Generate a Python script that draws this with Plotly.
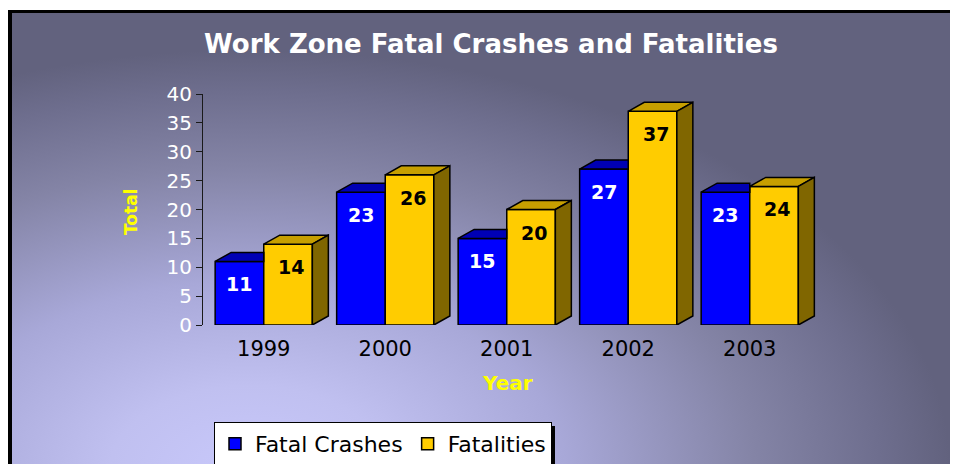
import base64
import plotly.graph_objects as go

years = ["1999", "2000", "2001", "2002", "2003"]
fatal_crashes = [11, 23, 15, 27, 23]
fatalities = [14, 26, 20, 37, 24]

# The page body has an 8px margin, so the figure is made 8px smaller and
# every reference pixel (X, Y) maps to figure pixel (X-8, Y-8).
OFF = 8
W, H = 958 - OFF, 464 - OFF
def fx(X):
    return (X - OFF) / W
def fy(Y):
    return 1 - (Y - OFF) / H

BLUE, BLUE_TOP = "#0000ff", "#0000b4"
GOLD, GOLD_TOP, GOLD_SIDE = "#ffcc00", "#c79f00", "#806600"
FONT = "DejaVu Sans"

# plot-area geometry (reference pixels)
x_left, px_per_cat = 203, 121.5
y_bottom, y_top = 325, 94
x_range = [-0.5, 4.62]
x_right = x_left + (x_range[1] - x_range[0]) * px_per_cat
px_per_unit = (y_bottom - y_top) / 40.0
DX = 16 / px_per_cat      # depth in category units
DY = 9 / px_per_unit      # depth in value units
BW = 0.4                  # bar width

svg = f'''<svg xmlns="http://www.w3.org/2000/svg" width="{W}" height="{H}" viewBox="{OFF} {OFF} {W} {H}">
<defs><radialGradient id="g" gradientUnits="userSpaceOnUse" cx="0" cy="0" r="1"
 gradientTransform="translate(250 470) scale(700 420)">
<stop offset="0" stop-color="#c8c8fb"/>
<stop offset="0.2" stop-color="#c0c0f0"/>
<stop offset="0.45" stop-color="#a8a8d8"/>
<stop offset="0.6" stop-color="#9494bc"/>
<stop offset="0.72" stop-color="#8484a6"/>
<stop offset="0.9" stop-color="#6e6e8e"/>
<stop offset="1" stop-color="#62627e"/>
</radialGradient></defs>
<rect x="0" y="0" width="1000" height="500" fill="white"/>
<rect x="8" y="10" width="990" height="490" fill="black"/>
<rect x="12" y="13" width="990" height="490" fill="url(#g)"/>
</svg>'''
bg_uri = "data:image/svg+xml;base64," + base64.b64encode(svg.encode()).decode()

idx = list(range(len(years)))
fig = go.Figure()
fig.add_trace(go.Bar(
    x=idx, y=fatal_crashes, name="Fatal Crashes",
    marker=dict(color=BLUE, line=dict(color="black", width=1.5)), hoverinfo="skip"))
fig.add_trace(go.Bar(
    x=idx, y=fatalities, name="Fatalities",
    marker=dict(color=GOLD, line=dict(color="black", width=1.5)), hoverinfo="skip"))

def faces(polys):
    xs, ys = [], []
    for p in polys:
        for (a, b) in p + [p[0]]:
            xs.append(a); ys.append(b)
        xs.append(None); ys.append(None)
    return xs, ys

blue_tops, gold_tops, gold_sides = [], [], []
for i, (b, g) in enumerate(zip(fatal_crashes, fatalities)):
    blue_tops.append([(i - BW, b), (i, b), (i, b + DY), (i - BW + DX, b + DY)])
    gold_tops.append([(i, g), (i + BW, g), (i + BW + DX, g + DY), (i + DX, g + DY)])
    gold_sides.append([(i + BW, 0), (i + BW + DX, DY), (i + BW + DX, g + DY), (i + BW, g)])

for polys, col in [(blue_tops, BLUE_TOP), (gold_tops, GOLD_TOP), (gold_sides, GOLD_SIDE)]:
    xs, ys = faces(polys)
    fig.add_trace(go.Scatter(x=xs, y=ys, mode="lines", fill="toself", fillcolor=col,
                             line=dict(color="black", width=1.5), showlegend=False,
                             hoverinfo="skip"))

annotations = [
    dict(text="<b>Total</b>", x=fx(131), y=fy(212), xref="paper", yref="paper",
         xanchor="center", yanchor="middle",
         showarrow=False, textangle=-90, font=dict(family=FONT, size=17, color="#ffff00")),
    dict(text="<b>Year</b>", x=fx(507), y=fy(383), xref="paper", yref="paper",
         xanchor="center", yanchor="middle",
         showarrow=False, font=dict(family=FONT, size=20, color="#ffff00")),
]
for i, (b, g) in enumerate(zip(fatal_crashes, fatalities)):
    annotations.append(dict(text=f"<b>{b}</b>", x=i - BW / 2, y=b, xref="x", yref="y",
                            yanchor="top", yshift=-10, showarrow=False,
                            font=dict(family=FONT, size=19, color="white")))
    annotations.append(dict(text=f"<b>{g}</b>", x=i + BW / 2, y=g, xref="x", yref="y",
                            yanchor="top", yshift=-10, xshift=3, showarrow=False,
                            font=dict(family=FONT, size=19, color="black")))

LEG_W = 337
LEG_TOP = 422
fig.update_layout(
    width=W, height=H, margin=dict(l=0, r=0, t=0, b=0, pad=0, autoexpand=False),
    paper_bgcolor="white", plot_bgcolor="rgba(0,0,0,0)",
    barmode="group", bargap=0.2, bargroupgap=0,
    images=[dict(source=bg_uri, xref="paper", yref="paper", x=0, y=1, sizex=1, sizey=1,
                 xanchor="left", yanchor="top", sizing="stretch", layer="below")],
    title=dict(text="<b>Work Zone Fatal Crashes and Fatalities</b>",
               font=dict(family=FONT, size=26, color="white"),
               x=fx(491), y=fy(44), xanchor="center", yanchor="middle"),
    xaxis=dict(domain=[fx(x_left), fx(x_right)], range=x_range, automargin=False,
               tickvals=idx, ticktext=years, showgrid=False, zeroline=False,
               showline=False, ticks="outside", ticklen=5, tickcolor="rgba(0,0,0,0)",
               tickfont=dict(family=FONT, size=21, color="black")),
    yaxis=dict(domain=[fy(y_bottom), fy(y_top)], range=[0, 40], dtick=5,
               automargin=False,
               showgrid=False, zeroline=False, showline=True, linecolor="#1a1a1a",
               linewidth=1, ticks="outside", ticklen=6, tickcolor="#1a1a1a",
               tickfont=dict(family=FONT, size=20, color="white")),
    legend=dict(orientation="h", x=fx(214), y=fy(LEG_TOP), xanchor="left", yanchor="top",
                bgcolor="white", bordercolor="black", borderwidth=1,
                font=dict(family=FONT, size=22, color="black")),
    annotations=annotations,
    shapes=[dict(type="rect", xref="paper", yref="paper",
                 x0=fx(218), x1=fx(214 + LEG_W + 4), y0=fy(470), y1=fy(LEG_TOP + 4),
                 fillcolor="black", line=dict(width=0), layer="above")],
)

fig.write_html("out.html")
